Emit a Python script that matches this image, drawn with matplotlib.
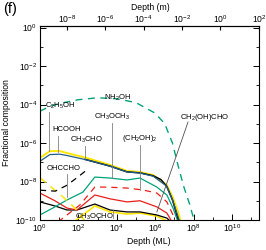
import matplotlib
matplotlib.use("Agg")
import matplotlib.pyplot as plt
import numpy as np
from matplotlib.ticker import LogLocator, NullFormatter

plt.rcParams['font.family'] = ['Liberation Sans', 'DejaVu Sans']
plt.rcParams['mathtext.default'] = 'regular'

# courbes : log10(profondeur en ML), log10(fraction)
nh2oh_x = [0, 0.5, 1, 2, 3, 4, 5, 6, 6.5, 6.9, 7.2, 7.5, 7.8, 8.05]
nh2oh_y = [-4.35, -4.1, -3.95, -3.75, -3.65, -3.7, -3.9, -4.45, -5.0, -6.0, -7.2, -8.3, -9.2, -10.1]

yel_x = [0, 0.52, 1.04, 1.41, 2.45, 3.65, 4.53, 5.21, 5.89, 6.61, 6.93, 7.19, 7.34]
yel_y = [-6.78, -6.42, -6.42, -6.52, -6.78, -7.14, -7.45, -7.51, -7.66, -8.18, -8.86, -9.58, -10.1]

blue_x = [0, 0.52, 1.04, 1.41, 2.45, 3.65, 4.53, 5.21, 5.89, 6.61, 6.9, 7.15, 7.28]
blue_y = [-6.95, -6.6, -6.58, -6.65, -6.88, -7.2, -7.5, -7.56, -7.72, -8.25, -8.95, -9.7, -10.1]

blk_x = [2.35, 3.65, 4.53, 5.21, 5.89, 6.3, 6.6, 6.9, 7.12, 7.25]
blk_y = [-6.85, -7.2, -7.5, -7.55, -7.7, -7.9, -8.25, -8.95, -9.7, -10.1]

grn_x = [0, 0.78, 1.41, 2.24, 2.86, 3.65, 4.53, 5.21, 6.09, 6.61, 6.93, 7.19]
grn_y = [-9.74, -9.32, -8.96, -8.55, -7.77, -7.82, -7.92, -7.82, -8.29, -8.7, -9.38, -10.1]

red_x = [0, 0.78, 1.41, 1.93, 2.86, 3.65, 4.53, 5.21, 6.09, 6.61, 6.88]
red_y = [-8.6, -9.0, -9.38, -9.48, -8.7, -8.9, -9.06, -9.0, -9.32, -9.64, -10.1]

redd_x = [0.94, 2.08, 2.86, 3.49, 4.53, 5.36, 6.09, 6.61, 6.93, 7.03]
redd_y = [-10.1, -9.22, -8.29, -8.29, -8.34, -8.44, -8.6, -9.06, -9.74, -10.1]

blk2_x = [0, 0.78, 1.41, 1.93, 2.86, 3.65, 4.53, 5.21, 6.09, 6.61, 6.82]
blk2_y = [-9.06, -9.27, -9.48, -9.48, -9.17, -9.48, -9.58, -9.58, -9.74, -9.9, -10.1]

yel2_x = [1.82, 2.86, 3.65, 4.53, 5.21, 6.09, 6.61]
yel2_y = [-10.05, -9.27, -9.58, -9.69, -9.64, -9.8, -10.05]

yeld_x = [0, 1.2, 1.82, 2.34]
yeld_y = [-7.8, -8.8, -9.38, -10.05]

blkd_x = [0, 0.8, 1.4, 2.0, 2.5]
blkd_y = [-8.45, -8.5, -8.2, -7.75, -7.35]

jaune = "#FFE600"
bleu = "#1F5F8B"
vert = "#00A37A"
rouge = "#E8201A"
gris = "#808080"

fig = plt.figure(figsize=(2.66, 2.5), dpi=100)
ax = fig.add_axes([0.150, 0.12, 0.824, 0.776])

def trace(lx, ly, c, ls="-", lw=0.9):
    ax.plot(10.0 ** np.array(lx), 10.0 ** np.array(ly), color=c, linestyle=ls, linewidth=lw)

trace(nh2oh_x, nh2oh_y, vert, (0, (5, 4)), 1.0)
trace(yel2_x, yel2_y, jaune, "-", 1.2)
trace(blk2_x, blk2_y, "black")
trace(red_x, red_y, rouge)
trace(redd_x, redd_y, rouge, (0, (5, 4)))
trace(grn_x, grn_y, vert)
trace(yeld_x, yeld_y, jaune, (0, (5, 4)), 1.1)
trace(blkd_x, blkd_y, "black", (0, (5, 4)))
trace(yel_x, yel_y, jaune, "-", 1.4)
trace(blk_x, blk_y, "black", "-", 1.1)
trace(blue_x, blue_y, bleu, "-", 0.9)

# étiquettes et traits de rappel
fs = 5.5
def etiquette(txt, tx, ty, px=None, y0=None, y1=None, ha="center"):
    ax.text(10 ** tx, 10 ** ty, txt, fontsize=fs, ha=ha, va="center")
    if px is not None:
        ax.plot([10 ** px, 10 ** px], [10 ** y0, 10 ** y1], color=gris, linewidth=0.6)

etiquette("C$_2$H$_5$OH", 0.26, -4.08, 0.47, -4.4, -6.42, ha="left")
etiquette("NH$_2$OH", 4.06, -3.66)
etiquette("HCOOH", 1.41, -5.32, 0.94, -5.62, -6.45)
etiquette("CH$_3$CHO", 2.4, -5.84, 2.34, -6.16, -6.78)
etiquette("CH$_3$OCH$_3$", 3.75, -4.65, 3.75, -4.96, -7.82)
etiquette("(CH$_2$OH)$_2$", 5.21, -5.74, 5.21, -6.1, -8.44)
etiquette("OHCCHO", 1.25, -7.3, 1.41, -7.6, -8.8)
etiquette("CH$_3$OCHO", 2.86, -9.84, 3.8, -9.88, -9.5)
etiquette("CH$_2$(OH)CHO", 8.6, -4.65)
ax.plot([10 ** 7.71, 10 ** 6.09], [10 ** -4.91, 10 ** -9.58], color="#505050", linewidth=0.6)

ax.set_xscale("log")
ax.set_yscale("log")
ax.set_xlim(1, 10 ** 11.41)
ax.set_ylim(1e-10, 10 ** 0.08)

ax.xaxis.set_major_locator(LogLocator(base=100))
ax.xaxis.set_minor_locator(LogLocator(base=100, subs=(10,)))
ax.xaxis.set_minor_formatter(NullFormatter())
ax.yaxis.set_major_locator(LogLocator(base=100))
ax.yaxis.set_minor_locator(LogLocator(base=100, subs=(10,)))
ax.yaxis.set_minor_formatter(NullFormatter())
ax.tick_params(which="both", direction="in", labelsize=6.2, right=True, top=False, pad=2)
ax.tick_params(which="major", length=4, width=0.7)
ax.tick_params(which="minor", length=2, width=0.6)
for s in ax.spines.values():
    s.set_linewidth(0.8)

f = 10 ** -9.4
sec = ax.secondary_xaxis("top", functions=(lambda x: x * f, lambda x: x / f))
sec.xaxis.set_major_locator(LogLocator(base=100))
sec.xaxis.set_minor_locator(LogLocator(base=10))
sec.xaxis.set_minor_formatter(NullFormatter())
sec.tick_params(which="both", direction="in", labelsize=6.2, pad=1)
sec.tick_params(which="major", length=3)
sec.tick_params(which="minor", length=3)

fig.text(0.564, 0.972, "Depth (m)", fontsize=6.2, ha="center", va="center")
fig.text(0.56, 0.032, "Depth (ML)", fontsize=6.2, ha="center", va="center")
fig.text(0.026, 0.508, "Fractional composition", fontsize=6.2, ha="center", va="center",
         rotation=90)
fig.text(0.012, 0.992, "(f)", fontsize=10.5, ha="left", va="top")

plt.savefig("out.png", dpi=100)
